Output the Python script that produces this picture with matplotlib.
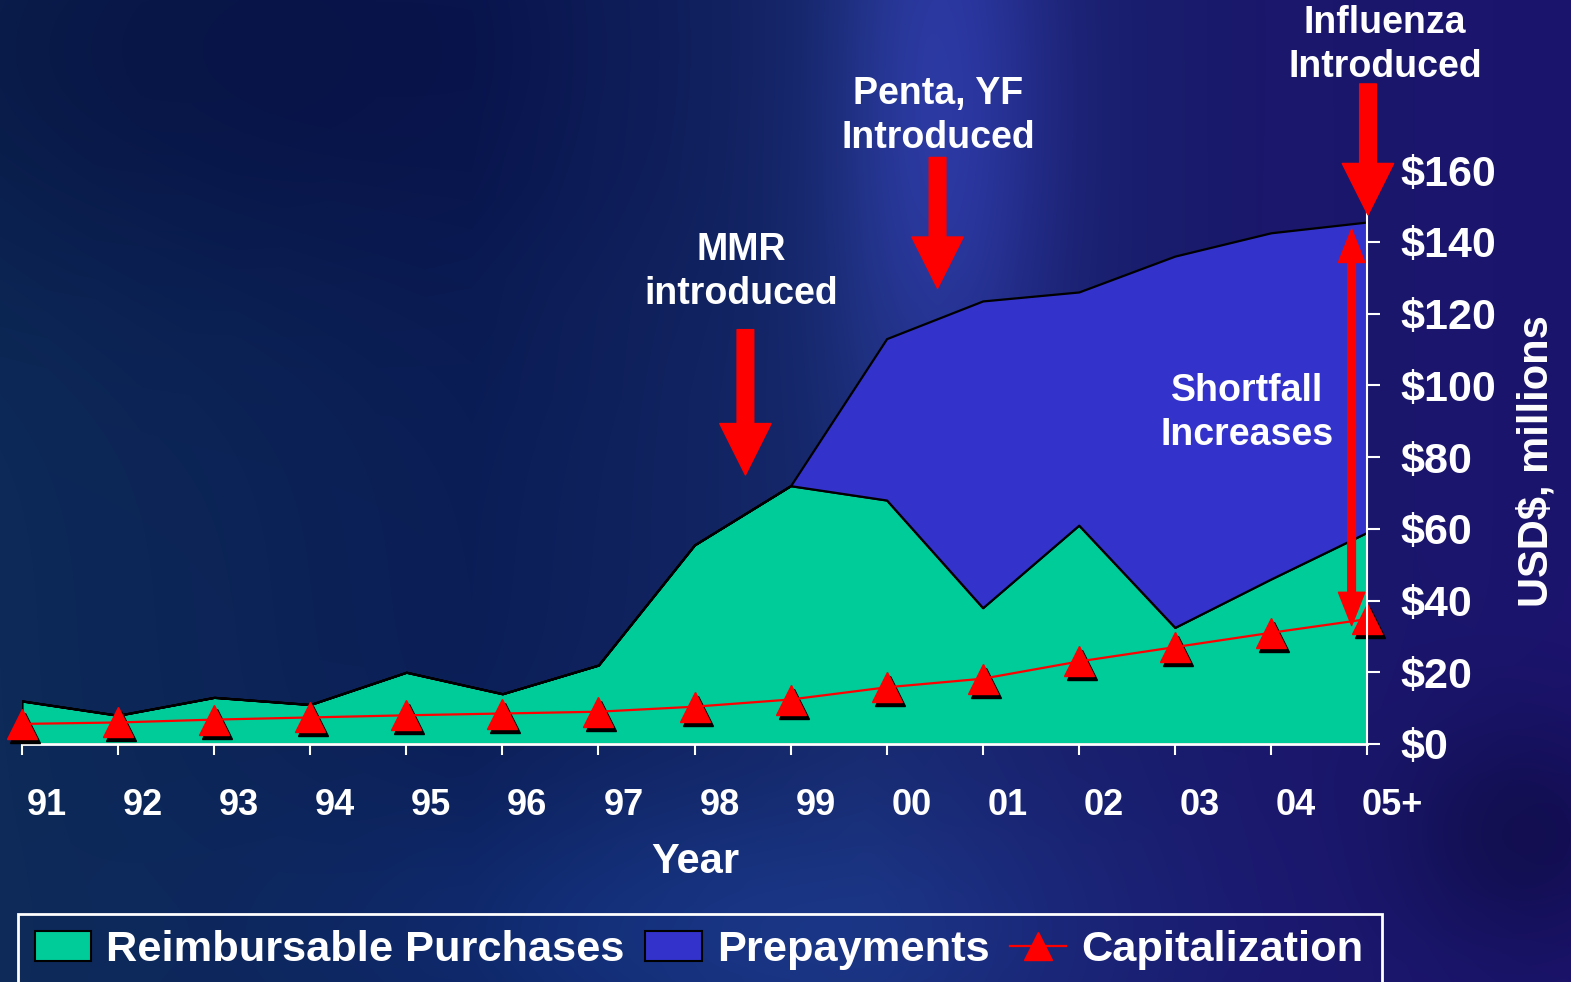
import numpy as np
import matplotlib
matplotlib.use("Agg")
import matplotlib.pyplot as plt
from matplotlib.patches import Patch, Rectangle
from matplotlib.lines import Line2D
from matplotlib.transforms import ScaledTranslation

plt.rcParams['font.family'] = ['Liberation Sans', 'DejaVu Sans']
plt.rcParams['font.weight'] = 'bold'

years = ['91', '92', '93', '94', '95', '96', '97', '98', '99', '00', '01', '02', '03', '04', '05+']
reimbursable = [12, 8, 13, 11, 20, 14, 22, 55.5, 72, 68, 38, 61, 32.5, 46, 59]
total_need = [12, 8, 13, 11, 20, 14, 22, 55.5, 72, 113, 123.5, 126, 136, 142.5, 145.5]
prepayments = [t - r for t, r in zip(total_need, reimbursable)]
capitalization = [5.6, 6, 6.8, 7.4, 8, 8.5, 9, 10.4, 12.4, 15.8, 18.2, 23, 27, 31, 34.8]
yticks = [0, 20, 40, 60, 80, 100, 120, 140, 160]

TEAL = '#00CC99'
BLUE = '#3333CC'
RED = '#FF0000'

W, H = 1571, 982
fig = plt.figure(figsize=(W / 100, H / 100), dpi=100)

# background gradient
yy, xx = np.mgrid[0:H, 0:W]
xn, yn = xx / W, yy / H
stops = [0.0, 0.3, 0.55, 0.8, 1.0]
cols = np.array([[0x0d, 0x2a, 0x58], [0x0b, 0x1e, 0x56], [0x16, 0x28, 0x6a],
                 [0x1a, 0x18, 0x6c], [0x1c, 0x14, 0x6e]]) / 255
bg = np.stack([np.interp(xn, stops, cols[:, c]) for c in range(3)], axis=-1)
def blob(cx, cy, sx, sy, col, amp):
    g = np.exp(-(((xn - cx) / sx) ** 2 + ((yn - cy) / sy) ** 2))
    return g[..., None] * (np.array(col)[None, None, :] / 255) * amp
bg += blob(0.60, 0.10, 0.07, 0.40, [0x18, 0x18, 0x40], 0.9)
bg -= blob(0.10, 0.05, 0.30, 0.25, [0x04, 0x10, 0x10], 1.0)
bg -= blob(0.97, 0.85, 0.08, 0.12, [0x10, 0x0a, 0x30], 0.6)
bg += blob(0.45, 0.95, 0.25, 0.15, [0x06, 0x10, 0x20], 1.0)
bg = np.clip(bg, 0, 1)
bgax = fig.add_axes([0, 0, 1, 1], zorder=-10)
bgax.imshow(bg, aspect='auto', extent=[0, 1, 0, 1])
bgax.axis('off')

ax = fig.add_axes([22 / W, 1 - 744 / H, (1367 - 22) / W, (744 - 170) / H])
ax.patch.set_alpha(0)
x = np.arange(len(years))

ax.stackplot(x, reimbursable, prepayments, colors=[TEAL, BLUE],
             edgecolor='black', linewidth=1.6, zorder=2)

shadow = ax.transData + ScaledTranslation(3 / 100, -4 / 100, fig.dpi_scale_trans)
ax.plot(x, capitalization, linestyle='none', marker='^', markersize=22,
        color='black', transform=shadow, zorder=3, clip_on=False)
ax.plot(x, capitalization, color=RED, linewidth=1.6, marker='^', markersize=22,
        markerfacecolor=RED, markeredgecolor=RED, zorder=4, clip_on=False)

ax.yaxis.tick_right()
ax.set_yticks(yticks)
ax.set_yticklabels(['$%d' % v for v in yticks], fontsize=31, color='white', fontweight='bold')
ax.set_xticks(x)
ax.set_xticklabels(years, fontsize=26, color='white', fontweight='bold')
ax.set_xlim(0, len(years) - 1)
ax.set_ylim(0, 160)

ax.tick_params(axis='x', colors='white', direction='out', length=8, width=1.5, pad=24)
ax.tick_params(axis='y', colors='white', direction='inout', length=18, width=1.5, pad=15)
# labels sit to the right of their tick marks
for tick in ax.xaxis.get_major_ticks():
    lab = tick.label1
    lab.set_transform(lab.get_transform() + ScaledTranslation(25 / 100, 0, fig.dpi_scale_trans))

for s in ['top', 'left']:
    ax.spines[s].set_visible(False)
ax.spines['bottom'].set_color('white')
ax.spines['bottom'].set_linewidth(2)
ax.spines['right'].set_color('white')
ax.spines['right'].set_linewidth(1.5)
ax.spines['right'].set_bounds(0, 149)
ax.spines['right'].set_zorder(5)

fig.text(695 / W, 1 - 862 / H, 'Year', fontsize=30, color='white', fontweight='bold',
         ha='center', va='center')
fig.text(1537 / W, 1 - 461 / H, 'USD$, millions', fontsize=30, color='white',
         fontweight='bold', ha='center', va='center', rotation=90)

big = dict(arrowstyle='simple,head_length=37,head_width=37,tail_width=12',
           color=RED, mutation_scale=1, shrinkA=0, shrinkB=0)
ax.annotate('', xy=(7.53, 75), xytext=(7.53, 115.5), arrowprops=big, annotation_clip=False, zorder=6)
ax.annotate('', xy=(9.53, 127), xytext=(9.53, 163.5), arrowprops=big, annotation_clip=False, zorder=6)
ax.annotate('', xy=(14.01, 147.5), xytext=(14.01, 184), arrowprops=big, annotation_clip=False, zorder=6)

small = dict(arrowstyle='simple,head_length=24,head_width=19,tail_width=5.5',
             color=RED, mutation_scale=1, shrinkA=0, shrinkB=0)
ax.annotate('', xy=(13.84, 143.5), xytext=(13.84, 88), arrowprops=small, annotation_clip=False, zorder=6)
ax.annotate('', xy=(13.84, 33), xytext=(13.84, 89), arrowprops=small, annotation_clip=False, zorder=6)

tkw = dict(fontsize=27, color='white', fontweight='bold', ha='center', va='center',
           linespacing=1.32)
fig.text(741 / W, 1 - 272 / H, 'MMR\nintroduced', **tkw)
fig.text(938 / W, 1 - 116 / H, 'Penta, YF\nIntroduced', **tkw)
fig.text(1385 / W, 1 - 45 / H, 'Influenza\nIntroduced', **tkw)
fig.text(1247 / W, 1 - 413 / H, 'Shortfall\nIncreases', **tkw)

# legend
fig.patches.append(Rectangle((18 / W, -0.02), (1382 - 18) / W, 0.02 + 1 - 914 / H,
                             transform=fig.transFigure, facecolor='none',
                             edgecolor='white', linewidth=2))
handles = [Patch(facecolor=TEAL, edgecolor='black', linewidth=1.5),
           Patch(facecolor=BLUE, edgecolor='black', linewidth=1.5),
           Line2D([], [], color=RED, linewidth=1.6, marker='^', markersize=20,
                  markerfacecolor=RED, markeredgecolor=RED)]
leg = fig.legend(handles, ['Reimbursable Purchases', 'Prepayments', 'Capitalization'],
                 loc='center left', bbox_to_anchor=(35 / W, 1 - 950 / H), ncol=3,
                 frameon=False, fontsize=31.2, handlelength=1.3, handleheight=0.7,
                 handletextpad=0.35, columnspacing=0.47, borderpad=0, borderaxespad=0)
for t in leg.get_texts():
    t.set_color('white')
    t.set_fontweight('bold')

fig.savefig('out.png', dpi=100)
